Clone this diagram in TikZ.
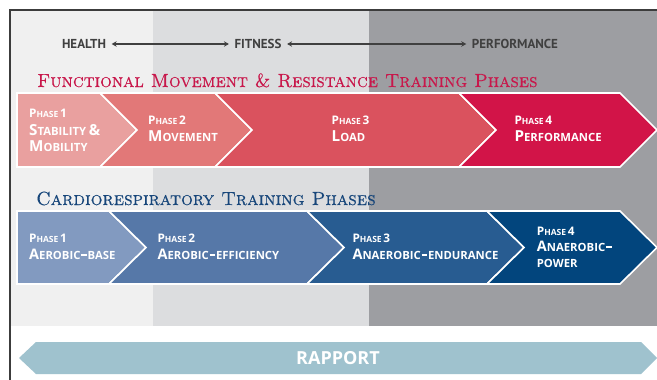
\documentclass[tikz,border=0pt]{standalone}
\usepackage{fontspec}
\usetikzlibrary{arrows.meta}
\newfontfamily\ptsans{PT Sans}
\newfontfamily\opensans{Open Sans}
\newfontfamily\ttlfont[FakeBold=0.4]{Latin Modern Roman Caps}
\definecolor{bandA}{HTML}{F0F0F0}
\definecolor{bandB}{HTML}{DCDDDF}
\definecolor{bandC}{HTML}{9D9EA2}
\definecolor{frameC}{HTML}{3C3C3C}
\definecolor{hdrC}{HTML}{404040}
\definecolor{redT}{HTML}{C8174B}
\definecolor{blueT}{HTML}{17467A}
\definecolor{rA}{HTML}{E9A09F}
\definecolor{rB}{HTML}{E27878}
\definecolor{rC}{HTML}{DA525E}
\definecolor{rD}{HTML}{D21448}
\definecolor{bA}{HTML}{829AC0}
\definecolor{bB}{HTML}{5678A8}
\definecolor{bC}{HTML}{285C91}
\definecolor{bD}{HTML}{02457D}
\definecolor{rapC}{HTML}{9FC2CE}
% small caps helpers: first letter big, rest small
\newcommand\phr[1]{{\fontsize{11.8}{16}\selectfont P}{\fontsize{8.5}{16}\selectfont HASE}\,{\fontsize{11.8}{16}\selectfont #1}}
\newcommand\rbig[1]{{\fontsize{15.2}{16}\selectfont #1}}
\newcommand\rsm[1]{{\fontsize{11.3}{16}\selectfont #1}}
\newcommand\bbig[1]{{\fontsize{14.5}{16}\selectfont #1}}
\newcommand\bsm[1]{{\fontsize{11.3}{16}\selectfont #1}}
\newcommand\thdash{\kern0.8pt\rule[2.9pt]{5.6pt}{2.2pt}\kern0.8pt}
\begin{document}
\begin{tikzpicture}[x=1pt,y=-1pt,
  hdr/.style={font=\ptsans\bfseries\fontsize{13}{13}\selectfont, text=hdrC, inner xsep=5.5pt},
  harrow/.style={draw=hdrC, line width=1.3pt, {Stealth[length=5pt,width=5.5pt]}-{Stealth[length=5pt,width=5.5pt]}},
  ttl/.style={font=\ttlfont\fontsize{19}{19}\selectfont, anchor=base west, inner sep=0pt},
  ptxt/.style={font=\opensans\bfseries, text=white, anchor=base west, inner sep=0pt},
  chev/.style={draw=white, line width=1.6pt, line join=miter}
]
\useasboundingbox (0,0) rectangle (657,380);
\fill[white] (0,0) rectangle (657,380);
% background bands
\fill[bandA] (10,10) rectangle (153,326);
\fill[bandB] (153,10) rectangle (369,326);
\fill[bandC] (369,10) rectangle (657,326);
\draw[frameC, line width=1.5pt] (657,10) -- (10,10) -- (10,380);
% header
\node[hdr] (health) at (84,44) {HEALTH};
\node[hdr] (fitness) at (258,44) {FITNESS};
\node[hdr] (perf) at (515,44) {PERFORMANCE};
\draw[harrow] (health) -- (fitness);
\draw[harrow] (fitness) -- (perf);
% red title
\node[ttl, text=redT] (rtitle) at (37,87) {\scalebox{0.968}[1]{Functional Movement \& Resistance Training Phases}};
% red chevrons
\fill[rA, chev] (17,93) -- (100,93) -- (137,130) -- (100,167) -- (17,167) -- cycle;
\fill[rB, chev] (100,93) -- (215,93) -- (252,130) -- (215,167) -- (100,167) -- (137,130) -- cycle;
\fill[rC, chev] (215,93) -- (459,93) -- (496,130) -- (459,167) -- (215,167) -- (252,130) -- cycle;
\fill[rD, chev] (459,93) -- (620,93) -- (657,130) -- (620,167) -- (459,167) -- (496,130) -- cycle;
\node[ptxt] (r1a) at (29,117.7) {\phr{1}};
\node[ptxt] (r1b) at (29,135) {\rbig{S}\rsm{TABILITY} \rbig{\&}};
\node[ptxt] (r1c) at (29,151.3) {\rbig{M}\rsm{OBILITY}};
\node[ptxt] (r2a) at (148,124.3) {\phr{2}};
\node[ptxt] (r2b) at (148,141) {\rbig{M}\rsm{OVEMENT}};
\node[ptxt] (r3a) at (331.5,124.3) {\phr{3}};
\node[ptxt] (r3b) at (331.5,141) {\rbig{L}\rsm{OAD}};
\node[ptxt] (r4a) at (514.3,124.3) {\phr{4}};
\node[ptxt] (r4b) at (514.3,141) {\rbig{P}\rsm{ERFORMANCE}};
% blue title
\node[ttl, text=blueT] (btitle) at (36,205) {\scalebox{0.98}[1]{Cardiorespiratory Training Phases}};
% blue chevrons
\fill[bA, chev] (17,211) -- (109,211) -- (146,247.5) -- (109,284) -- (17,284) -- cycle;
\fill[bB, chev] (109,211) -- (307,211) -- (344,247.5) -- (307,284) -- (109,284) -- (146,247.5) -- cycle;
\fill[bC, chev] (307,211) -- (487,211) -- (524,247.5) -- (487,284) -- (307,284) -- (344,247.5) -- cycle;
\fill[bD, chev] (487,211) -- (620,211) -- (657,247.5) -- (620,284) -- (487,284) -- (524,247.5) -- cycle;
\node[ptxt] (b1a) at (29,242.7) {\phr{1}};
\node[ptxt] (b1b) at (29,259.3) {\bbig{A}\bsm{EROBIC\thdash BASE}};
\node[ptxt] (b2a) at (157.3,242.7) {\phr{2}};
\node[ptxt] (b2b) at (157.3,259.3) {\bbig{A}\bsm{EROBIC\thdash EFFICIENCY}};
\node[ptxt] (b3a) at (352.3,242.7) {\phr{3}};
\node[ptxt] (b3b) at (352.3,259.3) {\bbig{A}\bsm{NAEROBIC\thdash ENDURANCE}};
\node[ptxt] (b4a) at (536.7,235) {\phr{4}};
\node[ptxt] (b4b) at (536.7,251) {\bbig{A}\bsm{NAEROBIC\thdash}};
\node[ptxt] (b4c) at (536.7,267.3) {\bsm{POWER}};
% rapport
\fill[rapC] (19,358) -- (36,342) -- (641,342) -- (657,358) -- (641,374) -- (36,374) -- cycle;
\node[font=\opensans\bfseries\fontsize{18}{18}\selectfont, text=white] (rapport) at (338,358) {RAPPORT};
\end{tikzpicture}
\end{document}
